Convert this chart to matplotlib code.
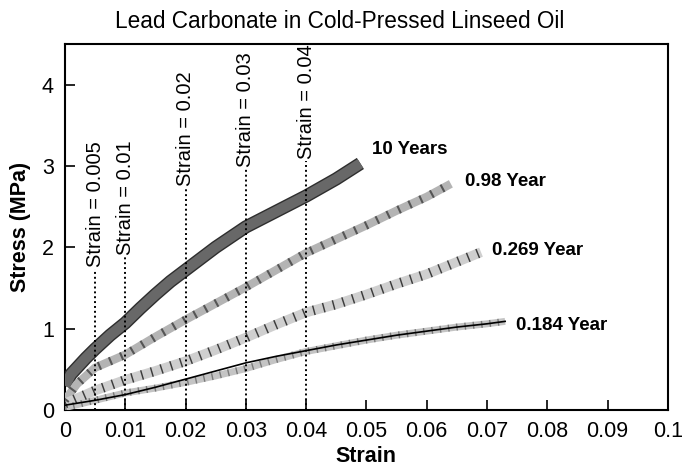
import matplotlib
matplotlib.use("Agg")
import matplotlib.pyplot as plt
from matplotlib import font_manager

# values
strain_10y = [0, 0.001, 0.002, 0.0035, 0.005, 0.0075, 0.01, 0.0125, 0.015,
              0.0175, 0.02, 0.025, 0.03, 0.035, 0.04, 0.045, 0.049]
stress_10y = [0.3, 0.44, 0.52, 0.64, 0.75, 0.92, 1.07, 1.25, 1.42,
              1.58, 1.72, 2.0, 2.25, 2.44, 2.63, 2.84, 3.03]

strain_098 = [0, 0.002, 0.005, 0.0075, 0.01, 0.015, 0.02, 0.025, 0.03, 0.035,
              0.04, 0.045, 0.05, 0.055, 0.06, 0.064]
stress_098 = [0.12, 0.32, 0.52, 0.6, 0.68, 0.9, 1.11, 1.31, 1.51, 1.72,
              1.93, 2.1, 2.27, 2.45, 2.62, 2.78]

strain_0269 = [0, 0.005, 0.01, 0.015, 0.02, 0.025, 0.03, 0.035, 0.04,
               0.045, 0.05, 0.055, 0.06, 0.065, 0.069]
stress_0269 = [0.08, 0.24, 0.37, 0.48, 0.6, 0.74, 0.89, 1.05, 1.2,
               1.3, 1.42, 1.55, 1.67, 1.82, 1.94]

strain_0184 = [0, 0.005, 0.01, 0.015, 0.02, 0.025, 0.03, 0.035, 0.04,
               0.045, 0.05, 0.055, 0.06, 0.065, 0.07, 0.073]
stress_0184 = [0.03, 0.12, 0.21, 0.27, 0.34, 0.42, 0.51, 0.62, 0.72,
               0.79, 0.86, 0.92, 0.97, 1.02, 1.06, 1.09]
line_0184 = [0.06, 0.12, 0.19, 0.28, 0.38, 0.48, 0.58, 0.66, 0.73,
             0.8, 0.86, 0.92, 0.97, 1.02, 1.06, 1.09]

marker_strains = [0.005, 0.01, 0.02, 0.03, 0.04]
marker_tops = [1.73, 1.88, 2.72, 2.96, 3.06]
marker_labels = ["Strain = 0.005", "Strain = 0.01", "Strain = 0.02",
                 "Strain = 0.03", "Strain = 0.04"]

x_ticks = [0, 0.01, 0.02, 0.03, 0.04, 0.05, 0.06, 0.07, 0.08, 0.09, 0.1]
x_tick_labels = ["0", "0.01", "0.02", "0.03", "0.04", "0.05", "0.06",
                 "0.07", "0.08", "0.09", "0.1"]
y_ticks = [0, 1, 2, 3, 4]


def pick_font(names):
    available = {f.name for f in font_manager.fontManager.ttflist}
    for name in names:
        if name in available:
            return name
    return "DejaVu Sans"


BASE = pick_font(["Liberation Sans", "Arial"])
plt.rcParams["font.family"] = [BASE, "DejaVu Sans"]

fig = plt.figure(figsize=(6.83, 4.66), dpi=100)
ax = fig.add_axes([0.095, 0.12, 0.883, 0.786])

# curves drawn as thick textured bands
ax.plot(strain_10y, stress_10y, color="#2e2e2e", lw=9.5, solid_capstyle="butt",
        solid_joinstyle="round", zorder=3)
ax.plot(strain_10y, stress_10y, color="#686868", lw=7.5, solid_capstyle="butt",
        solid_joinstyle="round", zorder=4)

ax.plot(strain_098, stress_098, color="#b4b4b4", lw=6, solid_capstyle="butt", zorder=3)
ax.plot(strain_098, stress_098, color="#555555", lw=6, ls=(0, (0.25, 1.2)), zorder=4)

ax.plot(strain_0269, stress_0269, color="#cfcfcf", lw=7, solid_capstyle="butt", zorder=3)
ax.plot(strain_0269, stress_0269, color="#3c3c3c", lw=7, ls=(0, (0.15, 0.9)), zorder=4)

ax.plot(strain_0184, stress_0184, color="#c4c4c4", lw=5, solid_capstyle="butt", zorder=3)
ax.plot(strain_0184, stress_0184, color="#7a7a7a", lw=5, ls=(0, (0.2, 1.0)), zorder=4)
ax.plot(strain_0184, line_0184, color="black", lw=1.2, zorder=5)

# vertical dotted strain markers with labels
for xs, top, label in zip(marker_strains, marker_tops, marker_labels):
    ax.plot([xs, xs], [0, top], color="black", ls=(0, (1, 1.5)), lw=1.4, zorder=6)
    ax.text(xs, top + 0.03, label, rotation=90, ha="center", va="bottom",
            fontsize=14.5, zorder=7)

# curve names
names = ["10 Years", "0.98 Year", "0.269 Year", "0.184 Year"]
ends = [(strain_10y[-1], stress_10y[-1]), (strain_098[-1], stress_098[-1]),
        (strain_0269[-1], stress_0269[-1]), (strain_0184[-1], stress_0184[-1])]
offsets = [(12, 14), (14, 2), (11, 2), (11, -4)]
for name, (xe, ye), off in zip(names, ends, offsets):
    ax.annotate(name, (xe, ye), xytext=off, textcoords="offset pixels",
                ha="left", va="center", fontsize=13.5, fontweight="bold")

ax.set_xlim(0, 0.1)
ax.set_ylim(0, 4.5)
ax.set_xticks(x_ticks)
ax.set_xticklabels(x_tick_labels)
ax.set_yticks(y_ticks)
ax.tick_params(direction="in", length=7, width=1.2, labelsize=15.5, pad=8)
for sp in ax.spines.values():
    sp.set_linewidth(1.5)

ax.set_xlabel("Strain", fontsize=15.5, fontweight="bold", labelpad=3)
ax.set_ylabel("Stress (MPa)", fontsize=15.5, fontweight="bold", labelpad=8)

fig.text(340 / 683, 1 - 21 / 466, "Lead Carbonate in Cold-Pressed Linseed Oil",
         ha="center", va="center", fontsize=16.3)

fig.savefig("out.png", dpi=100, facecolor="white")
